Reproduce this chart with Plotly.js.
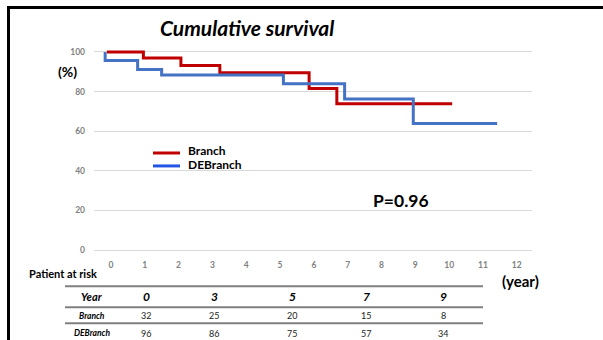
<!DOCTYPE html>
<html><head><meta charset="utf-8">
<script src="https://cdn.plot.ly/plotly-3.0.1.min.js"></script>
<style>body{margin:0;padding:0;background:#fff}#wrap{position:relative;width:603px;height:340px}#chart{width:603px;height:340px}#frame{position:absolute;left:7px;top:6px;right:0;bottom:-5px;border-left:3px solid #000;border-top:3px solid #000;pointer-events:none}</style>
</head><body><div id="wrap"><div id="chart"></div><div id="frame"></div></div>
<script>
// Kaplan-Meier step data (years, survival %)
const branchT = [-0.12, 0.96, 2.07, 3.22, 5.86, 6.68, 10.09];
const branchS = [100, 96.9, 93.2, 89.5, 81.5, 73.8, 73.8];
const debranchT = [-0.17, -0.17, 0.79, 1.5, 5.1, 6.91, 8.94, 11.42];
const debranchS = [100, 95.7, 91.1, 88.3, 84.0, 76.3, 63.9, 63.9];
const seriesNames = ['Branch', 'DEBranch'];
const xTicks = [0,1,2,3,4,5,6,7,8,9,10,11,12];
const yTicks = [0,20,40,60,80,100];
// Patients-at-risk table
const riskYears = [0, 3, 5, 7, 9];
const riskBranch = [32, 25, 20, 15, 8];
const riskDEBranch = [96, 86, 75, 57, 34];
const pText = 'P=0.96';

const red = '#C00000', blue = '#4472C4';
const L = 94, R = 532, T = 45.5, B = 256.5;
const px = x => (x - L) / (R - L);
const py = y => (B - y) / (B - T);
const F = 'Lato, "Open Sans", sans-serif';

const traces = [
  {x: branchT, y: branchS, name: seriesNames[0], mode: 'lines', line: {shape: 'hv', color: red, width: 3}},
  {x: debranchT, y: debranchS, name: seriesNames[1], mode: 'lines', line: {shape: 'hv', color: blue, width: 3}}
];

const ann = [];
const shapes = [];
ann.push({text: '<b><i>Cumulative survival</i></b>', x: px(247), y: py(27), font: {size: 21, color: '#000', family: F}});
ann.push({text: '<b>(%)</b>', x: px(67), y: py(71), font: {size: 14, color: '#000', family: F}});
ann.push({text: '<b>' + pText + '</b>', x: px(401), y: py(201), font: {size: 17.5, color: '#000', family: F}});
ann.push({text: '<b>Patient at risk</b>', x: px(63), y: py(274), font: {size: 11, color: '#000', family: F}});
ann.push({text: '<b>(year)</b>', x: px(520), y: py(282), font: {size: 15, color: '#000', family: F}});
// legend
const legY = [153, 166], legC = [red, '#2456E6'], legTY = [150, 165];
for (let i = 0; i < 2; i++) {
  shapes.push({type: 'line', xref: 'paper', yref: 'paper', x0: px(153), x1: px(180), y0: py(legY[i]), y1: py(legY[i]), line: {color: legC[i], width: 3}});
  ann.push({text: '<b>' + seriesNames[i] + '</b>', x: px(186), y: py(legTY[i]), xanchor: 'left', font: {size: 12, color: '#000', family: F}});
}
// table
[287, 308, 324].forEach(y => shapes.push({type: 'line', xref: 'paper', yref: 'paper', x0: px(65), x1: px(483), y0: py(y), y1: py(y), line: {color: '#7f7f7f', width: 2}}));
const colX = [146, 214, 292, 366, 443];
const rowY = [297.5, 316.5, 334];
ann.push({text: '<b><i>Year</i></b>', x: px(92), y: py(rowY[0]), font: {size: 11, color: '#000', family: F}});
ann.push({text: '<b><i>' + seriesNames[0] + '</i></b>', x: px(92), y: py(rowY[1]), font: {size: 8.5, color: '#000', family: F}});
ann.push({text: '<b><i>' + seriesNames[1] + '</i></b>', x: px(92), y: py(rowY[2]), font: {size: 8.5, color: '#000', family: F}});
riskYears.forEach((v, i) => {
  ann.push({text: '<b><i>' + v + '</i></b>', x: px(colX[i]), y: py(rowY[0]), font: {size: 12, color: '#000', family: F}});
  ann.push({text: String(riskBranch[i]), x: px(colX[i]), y: py(rowY[1]), font: {size: 9, color: '#222', family: F}});
  ann.push({text: String(riskDEBranch[i]), x: px(colX[i]), y: py(rowY[2]), font: {size: 9, color: '#222', family: F}});
});
ann.forEach(a => { a.xref = 'paper'; a.yref = 'paper'; a.showarrow = false; if (!a.xanchor) a.xanchor = 'center'; a.yanchor = 'middle'; });

const layout = {
  width: 603, height: 340,
  margin: {l: L, r: 603 - R, t: T, b: 340 - B, pad: 0},
  paper_bgcolor: '#fff', plot_bgcolor: '#fff',
  showlegend: false,
  xaxis: {range: [-0.5, 12.45], tickvals: xTicks, ticktext: xTicks.map(v => '<b>' + v + '</b>'), showgrid: false, zeroline: false, showline: false, ticks: '', tickfont: {size: 8.5, color: '#7f7f7f', family: F}, ticklabelstandoff: 2, fixedrange: true},
  yaxis: {range: [-3, 103], tickvals: yTicks, ticktext: yTicks.map(v => '<b>' + v + '</b>'), showgrid: true, gridcolor: '#d9d9d9', gridwidth: 1, zeroline: false, showline: false, ticks: '', tickfont: {size: 8.5, color: '#7f7f7f', family: F}, ticklabelstandoff: 8, fixedrange: true},
  annotations: ann,
  shapes: shapes
};
Plotly.newPlot('chart', traces, layout, {staticPlot: true, displayModeBar: false});
</script></body></html>
